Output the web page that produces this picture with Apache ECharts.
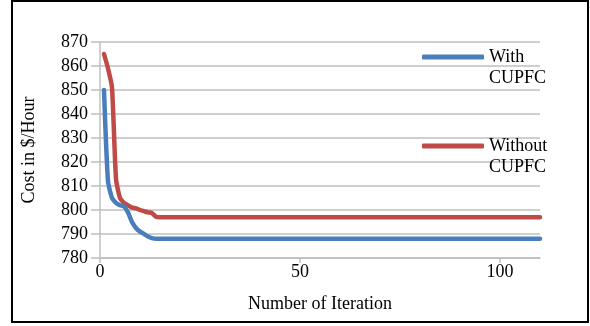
<!DOCTYPE html>
<html>
<head>
<meta charset="utf-8">
<script src="https://cdn.jsdelivr.net/npm/echarts@6/dist/echarts.min.js"></script>
<style>html,body{margin:0;padding:0;background:#fff;}#c{width:590px;height:326px;}</style>
</head>
<body>
<div id="c"></div>
<script>
// Iteration numbers (x) for the plotted points
const iterations = [1, 2, 3, 4, 5, 6, 7, 8, 9, 10, 11, 12, 13, 14, 15, 110];
// Cost with CUPFC ($/Hour)
const withCUPFC = [850, 812, 805, 803, 802, 801.5, 799, 795, 792.5, 791, 790, 789, 788.3, 788, 788, 788];
// Cost without CUPFC ($/Hour)
const withoutCUPFC = [865, 859, 851, 813, 805, 803, 802, 801, 800.7, 800, 799.5, 799, 798.7, 797.2, 797, 797];
const xTicks = [0, 50, 100];
const seriesNames = ['With CUPFC', 'Without CUPFC'];

const pairs = (vals) => iterations.map((x, i) => [x, vals[i]]);
const font = 'Liberation Serif, Times New Roman, serif';
const blue = '#4a7ebb';
const red = '#be4b48';
const fs = 18;

const chart = echarts.init(document.getElementById('c'), null, {renderer: 'canvas'});
const legendText = {fontFamily: font, fontSize: fs, color: '#000', lineHeight: 21};
chart.setOption({
  animation: false,
  backgroundColor: '#fff',
  textStyle: {fontFamily: font},
  grid: {left: 100, right: 50, top: 42, bottom: 68},
  graphic: [{
    type: 'rect', shape: {x: 12, y: 1, width: 576, height: 321},
    style: {fill: 'none', stroke: '#000', lineWidth: 2}, silent: true
  }],
  legend: [
    {data: [seriesNames[0]], left: 422, top: 25.5, padding: 0, itemWidth: 62, itemHeight: 5,
     icon: 'roundRect', itemGap: 5, formatter: n => '\n' + n.replace(' ', '\n'), textStyle: legendText},
    {data: [seriesNames[1]], left: 422, top: 114.5, padding: 0, itemWidth: 62, itemHeight: 5,
     icon: 'roundRect', itemGap: 5, formatter: n => '\n' + n.replace(' ', '\n'), textStyle: legendText}
  ],
  xAxis: {
    type: 'value', min: 0, max: 110, interval: 50,
    name: 'Number of Iteration', nameLocation: 'middle', nameGap: 37,
    nameTextStyle: {fontFamily: font, fontSize: fs, color: '#000'},
    axisLine: {show: true, lineStyle: {color: '#bfbfbf', width: 1.5}},
    axisTick: {show: true, length: 5, customValues: xTicks, lineStyle: {color: '#bfbfbf', width: 1.5}},
    axisLabel: {customValues: xTicks, margin: 5, fontFamily: font, fontSize: fs, color: '#000'},
    splitLine: {show: false}
  },
  yAxis: {
    type: 'value', min: 780, max: 870, interval: 10,
    name: 'Cost in $/Hour', nameLocation: 'middle', nameGap: 62,
    nameTextStyle: {fontFamily: font, fontSize: fs, color: '#000'},
    axisLine: {show: true, lineStyle: {color: '#bfbfbf', width: 1.5}},
    axisTick: {show: true, length: 9, lineStyle: {color: '#bfbfbf', width: 1.5}},
    axisLabel: {margin: 12, fontFamily: font, fontSize: fs, color: '#000'},
    splitLine: {show: true, lineStyle: {color: '#bfbfbf', width: 1.5}}
  },
  series: [
    {name: seriesNames[0], type: 'line', data: pairs(withCUPFC), showSymbol: false, smooth: 0.2,
     color: blue, lineStyle: {width: 4.5, color: blue, cap: 'round', join: 'round'}, z: 3},
    {name: seriesNames[1], type: 'line', data: pairs(withoutCUPFC), showSymbol: false, smooth: 0.2,
     color: red, lineStyle: {width: 4.5, color: red, cap: 'round', join: 'round'}, z: 2}
  ]
});
</script>
</body>
</html>
